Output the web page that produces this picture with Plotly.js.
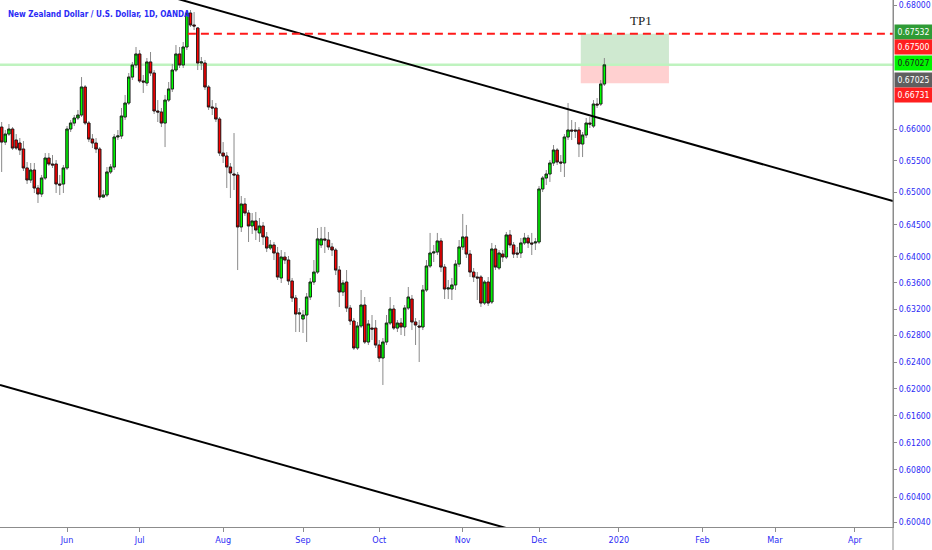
<!DOCTYPE html>
<html><head><meta charset="utf-8">
<script src="https://cdn.plot.ly/plotly-3.0.1.min.js"></script>
<style>html,body{margin:0;padding:0;background:#fff;}#chart{width:932px;height:550px;}</style>
</head><body><div id="chart"></div>
<script>
// ---------------- data ----------------
const firstSession = '2019-05-08';   // first daily bar, one bar per weekday after it
const opens = [
 .66031,.65793,.65920,.66000,.65825,.65778,.65683,.65384,.65195,.65352,.65069,.64975,.65226,.65541,.65446,.65446,.65132,.65132,
 .65384,.66000,.66095,.66175,.66223,.66671,.66095,.65841,.65778,.65683,
 .64928,.64960,.65321,.65399,.65873,.65889,.66191,.66414,.66831,.67025,
 .67203,.66767,.66735,.67074,.66896,.66287,.66271,.66095,.66462,.66639,
 .66944,.67203,.67025,.67316,.67869,.67674,.67625,.67057,.67057,.66671,
 .66351,.66335,.66159,.65619,.65572,.65399,.65289,.65274,.64462,.64819,
 .64679,.64477,.64555,.64369,.64477,.64307,.64136,.64183,.64059,.63675,
 .63997,.63951,.63629,.63369,.63125,.63049,.63110,.63384,.63613,.63766,
 .64183,.64276,.64260,.64152,.64105,.63797,.63460,.63613,.63216,.63019,
 .62611,.62943,.63262,.62701,.62912,.62912,.62656,.62460,.62701,.62988,
 .63201,.62912,.62988,.62928,.63216,.63353,.63004,.62943,.62928,.63491,
 .63859,.64059,.64074,.64245,.63843,.63506,.63506,.63568,.63889,.64152,
 .64307,.64043,.63766,.63690,.63690,.63292,.63613,.63308,.64121,.63828,
 .64043,.63997,.64338,.64183,.64059,.64059,.64214,.64291,.64214,.64214,
 .64229,.65054,.65226,.65289,.65462,.65667,.65478,.65462,.65873,.65984,
 .65984,.65984,.65762,.65905,.66095,.66047,.66398,.66398,.66719];
const highs = [
 .66111,.65984,.66079,.66031,.65920,.65857,.65809,.65478,.65462,.65462,.65116,.65274,.65619,.65619,.65588,.65509,.65274,.65431,
 .66047,.66143,.66223,.66303,.66831,.66703,.66127,.65920,.65857,.65714,
 .65038,.65399,.65446,.65920,.65984,.66335,.66543,.66896,.67074,.67316,
 .67267,.66864,.67138,.67235,.66944,.66462,.66335,.66543,.66751,.67041,
 .67348,.67316,.67397,.67918,.67918,.67885,.67641,.67154,.67106,.66703,
 .66462,.66414,.66191,.65793,.65635,.65462,.65936,.65321,.64944,.64913,
 .64726,.64679,.64695,.64601,.64539,.64384,.64260,.64229,.64152,.64105,
 .64074,.64013,.63675,.63415,.63216,.63186,.63445,.63675,.63951,.64446,
 .64462,.64462,.64384,.64214,.64136,.63859,.63644,.63797,.63262,.63064,
 .63004,.63491,.63384,.63034,.63110,.63034,.62731,.62761,.63110,.63384,
 .63262,.63034,.63064,.63262,.63537,.63415,.63064,.63034,.63568,.63951,
 .64369,.64183,.64369,.64291,.63889,.63644,.63675,.63951,.64260,.64664,
 .64493,.64105,.63828,.63766,.63720,.63644,.63690,.64214,.64183,.64105,
 .64105,.64384,.64415,.64229,.64152,.64291,.64369,.64338,.64369,.64291,
 .65101,.65258,.65352,.65509,.65746,.65698,.65588,.65920,.66414,.66143,
 .66111,.66031,.65952,.66175,.66191,.66462,.66494,.66783,.67138];
const lows = [
 .65321,.65746,.65889,.65667,.65667,.65588,.65336,.65132,.65148,.64991,.64835,.64928,.65195,.65415,.65384,.64991,.64960,.64991,
 .65352,.65952,.66047,.66143,.66191,.66063,.65793,.65698,.65619,.64881,
 .64913,.64928,.65289,.65352,.65825,.65841,.66143,.66383,.66783,.66976,
 .66735,.66575,.66687,.66847,.66239,.66111,.66031,.65714,.66430,.66591,
 .66912,.66976,.66976,.67267,.67641,.67592,.66944,.66944,.66623,.66303,
 .66223,.66111,.65572,.65462,.65069,.64913,.65038,.63797,.64384,.64633,
 .64229,.64353,.64260,.64229,.64183,.64074,.64105,.63951,.63644,.63598,
 .63889,.63568,.63308,.62852,.62852,.62837,.62701,.63338,.63568,.63736,
 .64136,.64059,.64105,.64013,.63720,.63232,.63399,.63156,.62958,.62581,
 .62581,.62912,.62671,.62656,.62731,.62611,.62400,.62056,.62656,.62958,
 .62882,.62852,.62807,.62791,.63186,.62882,.62656,.62400,.62882,.63460,
 .63828,.63920,.64028,.63766,.63353,.63353,.63338,.63491,.63843,.64105,
 .63982,.63690,.63613,.63338,.63232,.63262,.63247,.63277,.63797,.63797,
 .63920,.63966,.64136,.63982,.63982,.63982,.64183,.64136,.64028,.64105,
 .64198,.65007,.65116,.65164,.65415,.65431,.65321,.65242,.65825,.65825,
 .65857,.65556,.65556,.65857,.66016,.66016,.66335,.66367,.66687];
const closes = [
 .65793,.65920,.66000,.65698,.65698,.65667,.65384,.65195,.65352,.65069,.64975,.65226,.65541,.65446,.65431,.65132,.65116,.65384,
 .66000,.66095,.66175,.66223,.66671,.66095,.65841,.65778,.65683,.64928,
 .64960,.65321,.65399,.65873,.65889,.66207,.66414,.66831,.67025,.67203,
 .66767,.66751,.67074,.66896,.66287,.66271,.66095,.66462,.66639,.66944,
 .67203,.67025,.67316,.67869,.67674,.67657,.67057,.67074,.66671,.66351,
 .66335,.66159,.65619,.65572,.65399,.65305,.65274,.64462,.64819,.64679,
 .64477,.64555,.64415,.64477,.64307,.64136,.64183,.64059,.63690,.63997,
 .63951,.63629,.63369,.63125,.63140,.63110,.63384,.63613,.63766,.64276,
 .64276,.64260,.64152,.64105,.63797,.63460,.63598,.63216,.63019,.62611,
 .62943,.63262,.62701,.62973,.62897,.62656,.62460,.62701,.62988,.63201,
 .62912,.62988,.62928,.63216,.63384,.63004,.62958,.62928,.63491,.63859,
 .64059,.64074,.64245,.63843,.63506,.63522,.63568,.63889,.64152,.64307,
 .64043,.63766,.63690,.63675,.63292,.63613,.63292,.64121,.63843,.64059,
 .63997,.64338,.64183,.64043,.64043,.64214,.64291,.64214,.64198,.64229,
 .65054,.65226,.65289,.65462,.65667,.65478,.65462,.65873,.65984,.65968,
 .65968,.65762,.65905,.66095,.66079,.66398,.66383,.66719,.67027];

const monthTickDates  = ['2019-06-03','2019-07-01','2019-08-01','2019-09-02','2019-10-01','2019-11-01','2019-12-02','2020-01-01','2020-02-03','2020-03-02','2020-04-01'];
const monthTickLabels = ['Jun','Jul','Aug','Sep','Oct','Nov','Dec','2020','Feb','Mar','Apr'];
const priceTickValues = [0.68,0.66,0.655,0.65,0.645,0.64,0.636,0.632,0.628,0.624,0.62,0.616,0.612,0.608,0.604,0.6004];
const priceTickLabels = ['0.68000','0.66000','0.65500','0.65000','0.64500','0.64000','0.63600','0.63200','0.62800','0.62400','0.62000','0.61600','0.61200','0.60800','0.60400','0.60040'];

const chartTitle = 'New Zealand Dollar / U.S. Dollar, 1D, OANDA';
const targetPrice = 0.67532;   // TP1
const entryPrice  = 0.67027;
const stopPrice   = 0.66731;
const lastPrice   = 0.67027;
const priceBoxTexts  = ['0.67532','0.67500','0.67027','0.67025','0.66731'];
const upperTrendDates  = ['2019-07-15 12:00','2020-04-16 00:00'];
const upperTrendPrices = [0.68108, 0.64865];
const lowerTrendDates  = ['2019-05-08 01:00','2020-04-16 00:00'];
const lowerTrendPrices = [0.62056, 0.58398];
const positionDates    = ['2019-12-18 00:00','2020-01-21 07:00'];
const targetLineDates  = ['2019-07-18 19:00','2020-04-16 00:00'];
const tpLabel = {text:'TP1', date:'2020-01-09 14:00'};

// ---------------- layout / styles ----------------
const xRange = ['2019-05-08 01:00','2020-04-16 00:00'];
const yMin = 0.59970, yMax = 0.68082;
const plotH = 527, plotW = 893;
const priceBoxPixelY = [32.5, 47.5, 63.5, 79.5, 94.5];
const priceBoxBg   = ['#2f9b36','#ff1f1f','#00f400','#5f5f5f','#ff1f1f'];
const priceBoxFont = ['#ffffff','#ffffff','#1b1b1b','#ffffff','#ffffff'];
const narrow = '"DejaVu Sans Condensed","Liberation Sans Narrow",sans-serif';
const blue = '#2b2bf5';

function weekdaySessions(start, n) {
  const out = []; const d = new Date(start + 'T12:00:00Z');
  while (out.length < n) {
    const wd = d.getUTCDay();
    if (wd !== 0 && wd !== 6) out.push(d.toISOString().slice(0,10) + ' 12:00');
    d.setUTCDate(d.getUTCDate() + 1);
  }
  return out;
}
const dates = weekdaySessions(firstSession, opens.length);
const bodyHigh = opens.map((o,i)=>Math.max(o, closes[i]));
const bodyLow  = opens.map((o,i)=>Math.min(o, closes[i]));
const lg0 = Math.log10(yMin), lg1 = Math.log10(yMax);
const toPaper = v => (Math.log10(v) - lg0) / (lg1 - lg0);

const wicks = {type:'candlestick', x:dates, open:opens, high:highs, low:lows, close:closes,
  increasing:{line:{color:'#8a8a8a', width:1}, fillcolor:'#8a8a8a'},
  decreasing:{line:{color:'#8a8a8a', width:1}, fillcolor:'#8a8a8a'},
  hoverinfo:'skip', showlegend:false};
const bodies = {type:'candlestick', x:dates, open:opens, high:bodyHigh, low:bodyLow, close:closes,
  increasing:{line:{color:'#111111', width:0.8}, fillcolor:'#00ff00'},
  decreasing:{line:{color:'#111111', width:0.8}, fillcolor:'#ff0000'},
  hoverinfo:'skip', showlegend:false};
const upper = {type:'scatter', mode:'lines', x:upperTrendDates, y:upperTrendPrices,
  line:{color:'#000', width:2}, hoverinfo:'skip', showlegend:false};
const lower = {type:'scatter', mode:'lines', x:lowerTrendDates, y:lowerTrendPrices,
  line:{color:'#000', width:2}, hoverinfo:'skip', showlegend:false};
const tpLine = {type:'scatter', mode:'lines', x:targetLineDates, y:[targetPrice, targetPrice],
  line:{color:'#ff1a1a', width:2, dash:'8px,5px'}, hoverinfo:'skip', showlegend:false};

const annotations = [
  {xref:'paper', yref:'paper', x:6/plotW, y:1-14/plotH, xanchor:'left', yanchor:'middle', showarrow:false,
   text:'<b>'+chartTitle+'</b>', font:{family:narrow, size:8.1, color:blue}},
  {xref:'x', yref:'paper', x:tpLabel.date, y:1-20/plotH, xanchor:'center', yanchor:'middle', showarrow:false,
   text:tpLabel.text, font:{family:'"Liberation Serif","Times New Roman",serif', size:13, color:'#1a1a1a'}}
];
priceBoxTexts.forEach((t,i)=>annotations.push({xref:'paper', yref:'paper', x:1, xshift:1, y:1-priceBoxPixelY[i]/plotH,
  xanchor:'left', yanchor:'middle', showarrow:false, text:t, bgcolor:priceBoxBg[i], borderpad:1,
  width:35, height:12, align:'center', font:{family:narrow, size:8.6, color:priceBoxFont[i]}}));

const shapes = [
  {type:'rect', layer:'below', xref:'x', yref:'paper', x0:positionDates[0], x1:positionDates[1],
   y0:toPaper(entryPrice), y1:toPaper(targetPrice), fillcolor:'rgba(76,175,80,0.27)', line:{width:0}},
  {type:'rect', layer:'below', xref:'x', yref:'paper', x0:positionDates[0], x1:positionDates[1],
   y0:toPaper(stopPrice), y1:toPaper(entryPrice), fillcolor:'rgba(255,82,82,0.27)', line:{width:0}},
  {type:'line', layer:'below', xref:'paper', yref:'paper', x0:0, x1:1, y0:toPaper(lastPrice), y1:toPaper(lastPrice),
   line:{color:'#bff3bf', width:2.5}},
  {type:'line', layer:'above', xref:'paper', yref:'paper', x0:1, x1:1, y0:-23/plotH, y1:1, line:{color:'#8c8c8c', width:1}}
];

const layout = {
  width:932, height:550, margin:{l:0, r:39, t:0, b:23},
  paper_bgcolor:'#fff', plot_bgcolor:'#fff', showlegend:false, dragmode:false, boxgap:0.04,
  xaxis:{type:'date', range:xRange, rangebreaks:[{bounds:['sat','mon']}], rangeslider:{visible:false},
    tickmode:'array', tickvals:monthTickDates.map(d=>d+' 12:00'), ticktext:monthTickLabels,
    showgrid:false, zeroline:false, showline:true, linecolor:'#8c8c8c', linewidth:1,
    ticks:'outside', ticklen:4, tickcolor:'#8c8c8c', tickfont:{family:narrow, size:9, color:blue}},
  yaxis:{type:'log', side:'right', range:[lg0, lg1], tickmode:'array', tickvals:priceTickValues, ticktext:priceTickLabels,
    showgrid:false, zeroline:false, showline:true, linecolor:'#8c8c8c', linewidth:1,
    ticks:'outside', ticklen:3, tickcolor:'#8c8c8c', tickfont:{family:narrow, size:8.6, color:blue}},
  annotations, shapes
};
Plotly.newPlot('chart', [wicks, bodies, upper, lower, tpLine], layout, {staticPlot:true, displayModeBar:false});
</script></body></html>
